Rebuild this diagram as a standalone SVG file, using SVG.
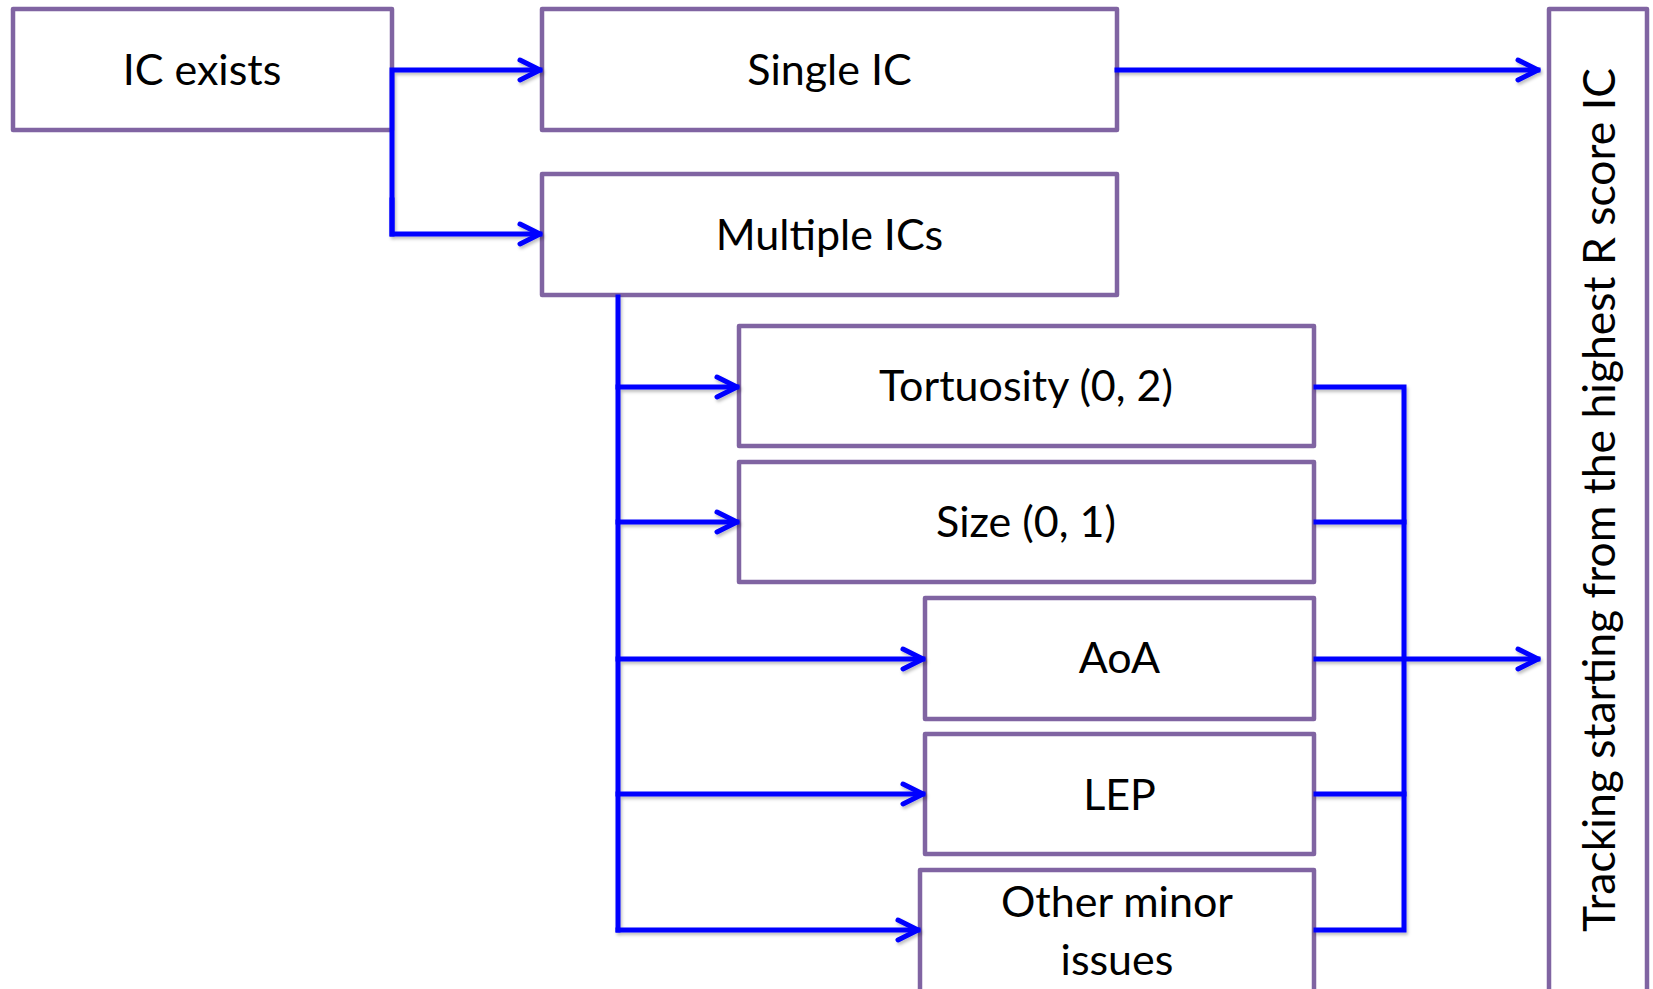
<svg xmlns="http://www.w3.org/2000/svg" width="1653" height="989" viewBox="0 0 1653 989">
<defs>
<style>
.box{fill:#ffffff;stroke:#8064A2;stroke-width:4.5;stroke-linejoin:round}
.lbl{font-family:Lato,"Liberation Sans",sans-serif;font-size:43px;fill:#000000;text-anchor:middle}
.con{fill:none;stroke:#0000FF;stroke-width:5;stroke-linejoin:miter;stroke-linecap:square}
</style>
<marker id="arr" markerUnits="userSpaceOnUse" viewBox="-24 -13 28 26" refX="0" refY="0" markerWidth="28" markerHeight="26" orient="auto" overflow="visible">
<path d="M-20,-10 L0,0 L-20,10" fill="none" stroke="#0000FF" stroke-width="5" stroke-linecap="round" stroke-linejoin="round"/>
</marker>
<filter id="sh" x="-5%" y="-5%" width="110%" height="110%">
<feDropShadow dx="1.5" dy="2.5" stdDeviation="1.5" flood-color="#000000" flood-opacity="0.25"/>
</filter>
</defs>
<rect width="1653" height="989" fill="#ffffff"/>
<g id="n-ic-exists"><rect class="box" x="13" y="9" width="379" height="121"/><text class="lbl" x="202" y="85">IC exists</text></g>
<g id="n-single"><rect class="box" x="542" y="9" width="575" height="121"/><text class="lbl" x="829.5" y="85">Single IC</text></g>
<g id="n-multiple"><rect class="box" x="542" y="174" width="575" height="121"/><text class="lbl" x="829.5" y="250">Multiple ICs</text></g>
<g id="n-tortuosity"><rect class="box" x="739" y="326" width="575" height="120"/><text class="lbl" x="1026" y="401">Tortuosity (0, 2)</text></g>
<g id="n-size"><rect class="box" x="739" y="462" width="575" height="120"/><text class="lbl" x="1026" y="537">Size (0, 1)</text></g>
<g id="n-aoa"><rect class="box" x="925" y="598" width="389" height="121"/><text class="lbl" x="1119.5" y="673">AoA</text></g>
<g id="n-lep"><rect class="box" x="925" y="734" width="389" height="120"/><text class="lbl" x="1119.5" y="810">LEP</text></g>
<g id="n-other"><rect class="box" x="920" y="870" width="394" height="128"/><text class="lbl" x="1117" y="917">Other minor</text><text class="lbl" x="1117" y="975">issues</text></g>
<g id="n-tracking"><rect class="box" x="1549" y="9" width="98" height="990"/><text class="lbl" style="font-size:44.5px" transform="translate(1615,500) rotate(-90)" x="0" y="0">Tracking starting from the highest R score IC</text></g>
<g id="connectors" filter="url(#sh)">
<path class="con" d="M392,234 L392,70 L540,70" marker-end="url(#arr)"/>
<path class="con" d="M392,200 L392,234 L540,234" marker-end="url(#arr)"/>
<path class="con" d="M1117,70 L1538,70" marker-end="url(#arr)"/>
<path class="con" d="M618,297 L618,930"/>
<path class="con" d="M618,387 L737,387" marker-end="url(#arr)"/>
<path class="con" d="M618,522 L737,522" marker-end="url(#arr)"/>
<path class="con" d="M618,659 L923,659" marker-end="url(#arr)"/>
<path class="con" d="M618,794 L923,794" marker-end="url(#arr)"/>
<path class="con" d="M618,930 L918,930" marker-end="url(#arr)"/>
<path class="con" d="M1316,387 L1404,387 L1404,930 L1316,930"/>
<path class="con" d="M1316,522 L1404,522"/>
<path class="con" d="M1316,794 L1404,794"/>
<path class="con" d="M1316,659 L1538,659" marker-end="url(#arr)"/>
</g>
</svg>
